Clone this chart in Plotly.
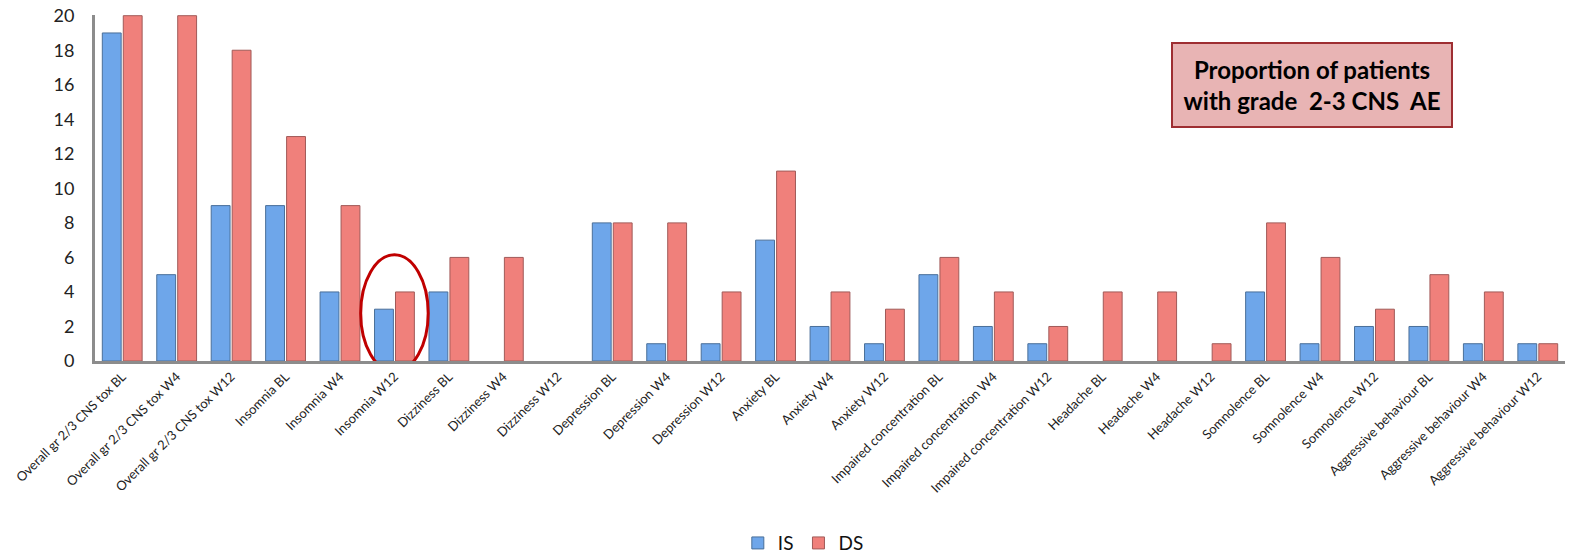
import plotly.graph_objects as go

categories = [
    "Overall gr 2/3 CNS tox BL", "Overall gr 2/3 CNS tox W4", "Overall gr 2/3 CNS tox W12",
    "Insomnia BL", "Insomnia W4", "Insomnia W12",
    "Dizziness BL", "Dizziness W4", "Dizziness W12",
    "Depression BL", "Depression W4", "Depression W12",
    "Anxiety BL", "Anxiety W4", "Anxiety W12",
    "Impaired concentration BL", "Impaired concentration W4", "Impaired concentration W12",
    "Headache BL", "Headache W4", "Headache W12",
    "Somnolence BL", "Somnolence W4", "Somnolence W12",
    "Aggressive behaviour BL", "Aggressive behaviour W4", "Aggressive behaviour W12",
]
is_values = [19, 5, 9, 9, 4, 3, 4, 0, 0, 8, 1, 1, 7, 2, 1, 5, 2, 1, 0, 0, 0, 4, 1, 2, 2, 1, 1]
ds_values = [20, 20, 18, 13, 9, 4, 6, 6, 0, 8, 8, 4, 11, 4, 3, 6, 4, 2, 4, 4, 1, 8, 6, 3, 5, 4, 1]
y_ticks = list(range(0, 21, 2))

fig = go.Figure()
fig.add_trace(go.Bar(
    name="IS", x=categories, y=is_values,
    marker=dict(color="#6ea6ea",
                line=dict(color="#4a6f99", width=[1 if v else 0 for v in is_values])),
))
fig.add_trace(go.Bar(
    name="DS", x=categories, y=ds_values,
    marker=dict(color="#f0807b",
                line=dict(color="#a05a58", width=[1 if v else 0 for v in ds_values])),
))

# highlight ellipse around Insomnia W12
idx = categories.index("Insomnia W12")
fig.add_shape(type="circle", xref="x", yref="y",
              x0=idx - 0.62, x1=idx + 0.62, y0=-0.62, y1=6.15,
              line=dict(color="#c00000", width=3), layer="above")

fig.add_annotation(
    xref="paper", yref="paper", x=0.828, y=0.798, xanchor="center", yanchor="middle",
    text="<b>Proportion of patients<br>with grade  2-3 CNS  AE</b>",
    showarrow=False, font=dict(family="Lato", size=24, color="#000000"),
    bgcolor="#e8b4b4", bordercolor="#9e2e32", borderwidth=2,
    width=276, height=80, align="center",
)

fig.update_layout(
    width=1569, height=557,
    margin=dict(l=95, r=4, t=15, b=196),
    paper_bgcolor="white", plot_bgcolor="white",
    barmode="group", bargap=0.23, bargroupgap=0.1,
    font=dict(family="Lato", color="#222222"),
    showlegend=True,
    legend=dict(orientation="h", xref="container", yref="container",
                x=0.512, y=0.025, xanchor="center", yanchor="middle",
                font=dict(size=19, color="#111111"), itemwidth=30, traceorder="normal"),
    xaxis=dict(
        type="category", tickangle=-45, tickfont=dict(size=13, color="#222222"),
        showline=True, linecolor="#8c8c8c", linewidth=3, showgrid=False,
        ticks="", automargin=False,
    ),
    yaxis=dict(
        range=[0, 20.04], tickvals=y_ticks, tickfont=dict(size=18, color="#222222"),
        showline=True, linecolor="#8c8c8c", linewidth=3, showgrid=False,
        zeroline=False, ticks="", ticklabelstandoff=14, automargin=False,
    ),
)

fig.write_html(
    "out.html",
    config={"displayModeBar": False},
    post_script="document.body.style.margin='0';document.body.style.overflow='hidden';"
                "document.documentElement.style.overflow='hidden';",
)
